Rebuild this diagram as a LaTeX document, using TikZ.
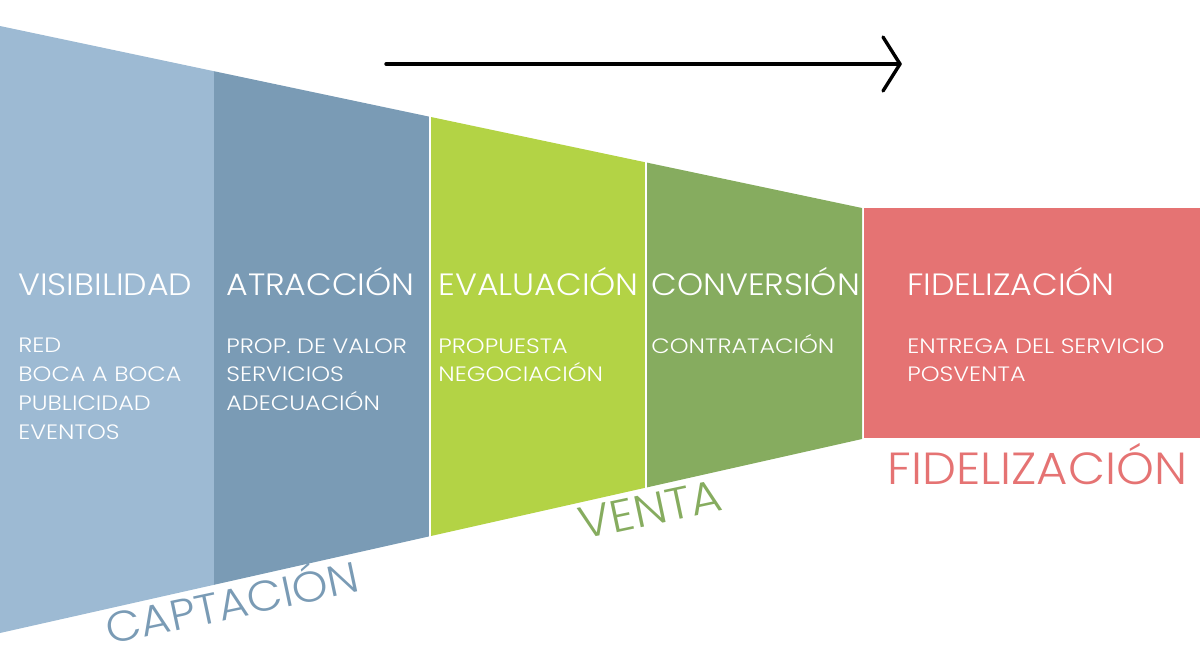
\documentclass[tikz,border=0pt]{standalone}
\usepackage{fontspec}
\setmainfont{Poppins Light}
\newfontfamily\headfont{Poppins Light}[FakeStretch=1.08]
\newfontfamily\itemfont{Poppins Light}[FakeStretch=1.15]
\newfontfamily\bigfont{Poppins Light}[FakeStretch=1.07]
\definecolor{cvis}{HTML}{9DBAD3}
\definecolor{catr}{HTML}{7A9BB5}
\definecolor{ceva}{HTML}{B3D345}
\definecolor{ccon}{HTML}{86AC5F}
\definecolor{cfid}{HTML}{E57373}
\tikzset{
  head/.style={anchor=base west, inner sep=0pt, text=white, font=\headfont\fontsize{15.4}{18}\selectfont},
  items/.style={anchor=base west, inner sep=0pt, text=white, align=left, font=\itemfont\fontsize{10.4}{14.35}\selectfont},
  biglabel/.style={anchor=base west, inner sep=0pt, font=\bigfont\fontsize{22.5}{24}\selectfont},
  sep/.style={white, line width=0.8pt},
}
\begin{document}
\begin{tikzpicture}[x=0.5pt, y=-0.5pt]
\useasboundingbox (0,0) rectangle (1200,660);
% funnel segments
\fill[cvis] (0,26) -- (214,71.2) -- (214,584.8) -- (0,633) -- cycle;
\fill[catr] (214,71.2) -- (430,116.8) -- (430,536.2) -- (214,584.8) -- cycle;
\fill[ceva] (430,116.8) -- (646,162.4) -- (646,487.6) -- (430,536.2) -- cycle;
\fill[ccon] (646,162.4) -- (862,208) -- (862,439) -- (646,487.6) -- cycle;
\fill[cfid] (864,208) rectangle (1200,438);
\draw[sep] (430,116) -- (430,537);
\draw[sep] (646,162) -- (646,488);
% arrow
\coordinate (as) at (386,64);
\coordinate (ae) at (900,64);
\coordinate (au) at (883,37);
\coordinate (ad) at (883,91);
\draw[line width=1.7pt, line cap=round, line join=round] (as) -- (ae);
\draw[line width=1.7pt, line cap=round, line join=round] (au) -- (ae) -- (ad);
% headings
\node[head] (h1) at (18,295) {VISIBILIDAD};
\node[head] (h2) at (226,295) {ATRACCIÓN};
\node[head] (h3) at (438,295) {EVALUACIÓN};
\node[head] (h4) at (651,295) {CONVERSIÓN};
\node[head] (h5) at (907,295) {FIDELIZACIÓN};
% items (anchored at the baseline of the last line)
\node[items] (i1) at (18,439) {RED\\BOCA A BOCA\\PUBLICIDAD\\EVENTOS};
\node[items] (i2) at (226,410.4) {PROP. DE VALOR\\SERVICIOS\\ADECUACIÓN};
\node[items] (i3) at (438,381.7) {PROPUESTA\\NEGOCIACIÓN};
\node[items] (i4) at (651,353) {CONTRATACIÓN};
\node[items] (i5) at (907,381.7) {ENTREGA DEL SERVICIO\\POSVENTA};
% stage labels
\node[biglabel, text=catr, rotate=12, font=\bigfont\fontsize{21.4}{24}\selectfont] (l1) at (109,645) {CAPTACIÓN};
\node[biglabel, text=ccon, rotate=12] (l2) at (582,540) {VENTA};
\node[biglabel, text=cfid] (l3) at (887,484) {FIDELIZACIÓN};
\end{tikzpicture}
\end{document}
